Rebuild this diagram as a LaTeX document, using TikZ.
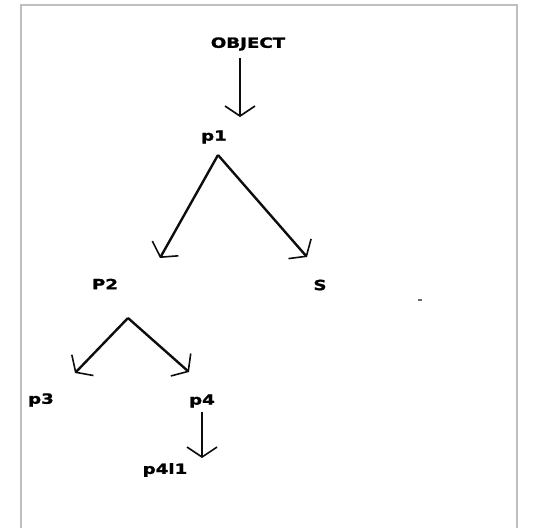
\documentclass[tikz,border=0pt]{standalone}
\usepackage{fontspec}
\newfontfamily\paintfont[FakeStretch=1.3,FakeBold=1.5]{DejaVu Sans Bold}
\usetikzlibrary{arrows.meta}

\begin{document}
\begin{tikzpicture}
  [x=1pt,y=-1pt,every node/.style={font=\paintfont\fontsize{14}{16}\selectfont,inner sep=1pt},
   edge/.style={line width=2.4pt,draw=black!95,-{Straight Barb[length=10pt,width=30pt,line width=1.6pt]}}]
  \useasboundingbox (0,0) rectangle (539,528);
  % marco
  \draw[black!25,line width=1.2pt] (21,528) -- (21,5) -- (517,5) -- (517,528);

  % etiquetas
  \node (obj) at (248,44) {OBJECT};
  \node (p1) at (214,137) {p1};
  \node (p2) at (105,284) {P2};
  \node (s) at (320,285) {S};
  \node (p3) at (41,400) {p3};
  \node (p4) at (202,401) {p4};
  \node (p41) at (165,470) {p4l1};

  % puntos de las flechas
  \coordinate (f0) at (240,58);
  \coordinate (e0) at (240,117);
  \coordinate (f1) at (218,155);
  \coordinate (e2) at (160,258);
  \coordinate (es) at (307,257);
  \coordinate (f2) at (128,318);
  \coordinate (e3) at (75,373);
  \coordinate (e4) at (189,372);
  \coordinate (f4) at (202,412);
  \coordinate (e41) at (202,458);

  \foreach \from/\to in {f0/e0, f1/e2, f1/es, f2/e3, f2/e4, f4/e41}
    \draw[edge] (\from) -- (\to);

  \fill[black!60] (418,299) rectangle (422,301);
\end{tikzpicture}
\end{document}
